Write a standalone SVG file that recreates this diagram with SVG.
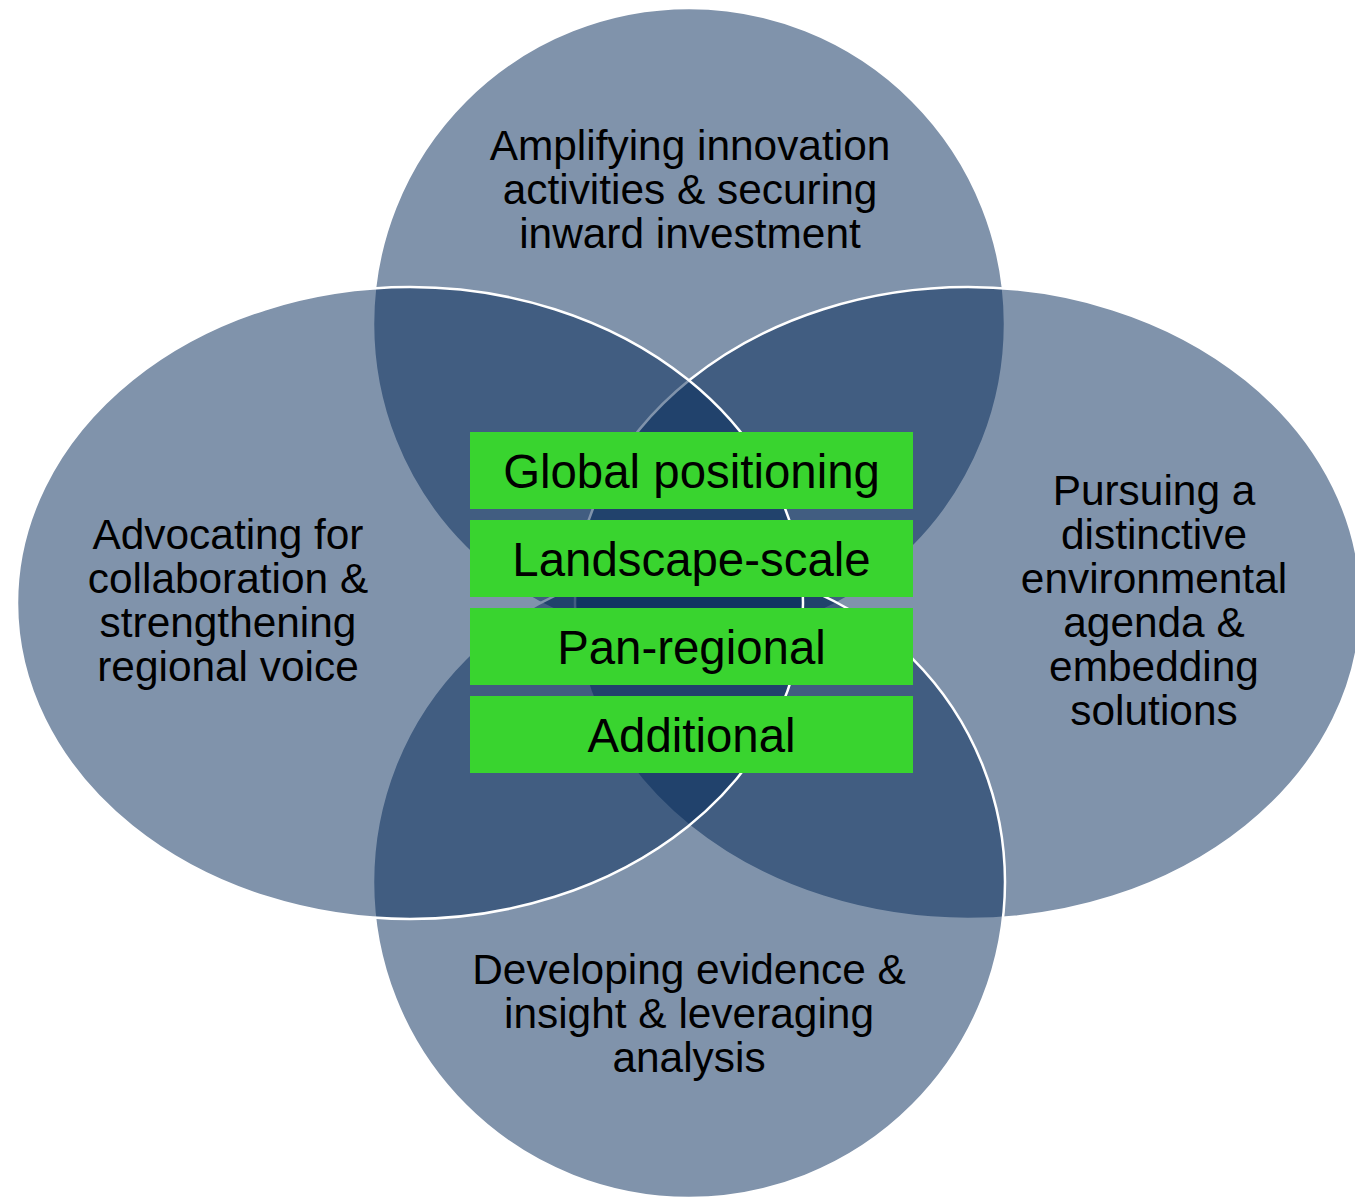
<svg xmlns="http://www.w3.org/2000/svg" width="1355" height="1199" viewBox="0 0 1355 1199">
<style>
.c{fill:#012757;fill-opacity:0.5;stroke:#ffffff;stroke-width:2.5}
.t{font-family:"Liberation Sans",Arial,sans-serif;font-size:42.4px;fill:#000;text-anchor:middle}
.b{fill:#39D42F}
.bt{font-family:"Liberation Sans",Arial,sans-serif;font-size:47.4px;fill:#000;text-anchor:middle}
</style>
<rect width="1355" height="1199" fill="#ffffff"/>
<g id="node-top">
<ellipse class="c" cx="689" cy="324" rx="316" ry="316"/>
<text class="t" x="690" y="160">Amplifying innovation</text>
<text class="t" x="690" y="204">activities &amp; securing</text>
<text class="t" x="690" y="248">inward investment</text>
</g>
<g id="node-right">
<ellipse class="c" cx="968" cy="603" rx="393" ry="316"/>
<text class="t" x="1154" y="505">Pursuing a</text>
<text class="t" x="1154" y="549">distinctive</text>
<text class="t" x="1154" y="593">environmental</text>
<text class="t" x="1154" y="637">agenda &amp;</text>
<text class="t" x="1154" y="681">embedding</text>
<text class="t" x="1154" y="725">solutions</text>
</g>
<g id="node-bottom">
<ellipse class="c" cx="689" cy="882" rx="316" ry="316"/>
<text class="t" x="689" y="984">Developing evidence &amp;</text>
<text class="t" x="689" y="1028">insight &amp; leveraging</text>
<text class="t" x="689" y="1072">analysis</text>
</g>
<g id="node-left">
<ellipse class="c" cx="410" cy="603" rx="393" ry="316"/>
<text class="t" x="228" y="549">Advocating for</text>
<text class="t" x="228" y="593">collaboration &amp;</text>
<text class="t" x="228" y="637">strengthening</text>
<text class="t" x="228" y="681">regional voice</text>
</g>
<g id="node-global">
<rect class="b" x="470" y="432" width="443" height="77"/>
<text class="bt" x="691.5" y="488">Global positioning</text>
</g>
<g id="node-landscape">
<rect class="b" x="470" y="520" width="443" height="77"/>
<text class="bt" x="691.5" y="576">Landscape-scale</text>
</g>
<g id="node-panregional">
<rect class="b" x="470" y="608" width="443" height="77"/>
<text class="bt" x="691.5" y="664">Pan-regional</text>
</g>
<g id="node-additional">
<rect class="b" x="470" y="696" width="443" height="77"/>
<text class="bt" x="691.5" y="752">Additional</text>
</g>
<g id="connectors"/>
</svg>
